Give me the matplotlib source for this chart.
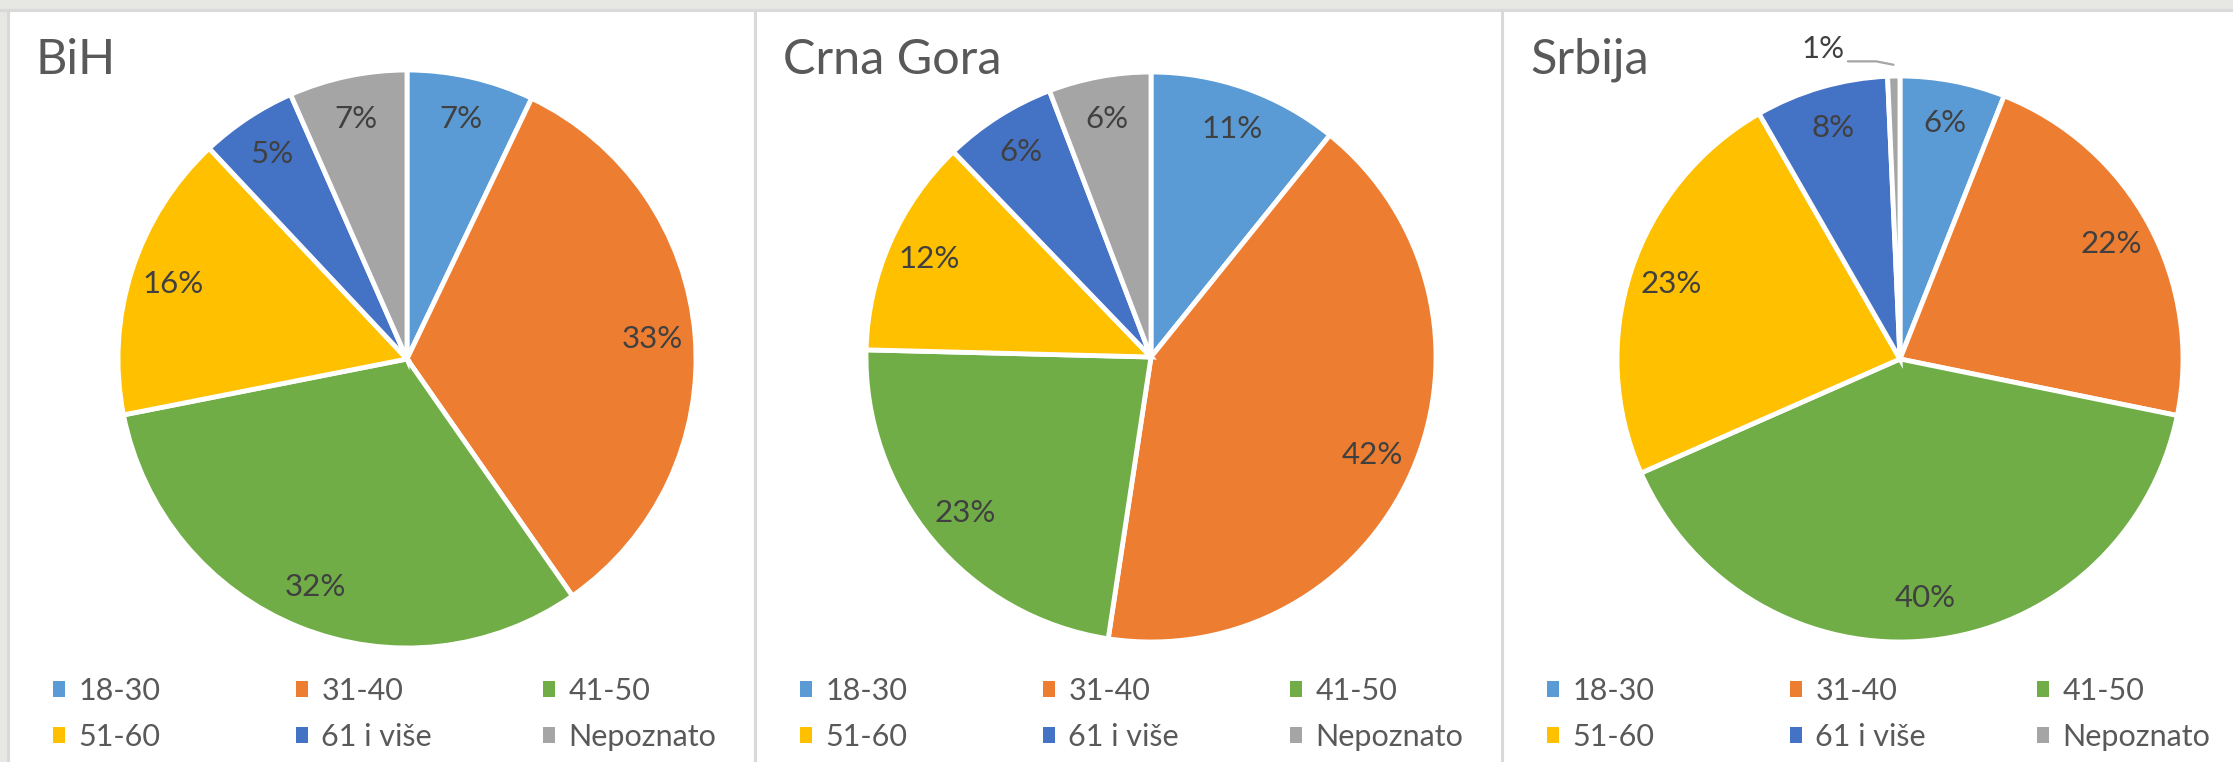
import math

import matplotlib
matplotlib.use("Agg")
from matplotlib import pyplot as plt
from matplotlib.patches import Rectangle, Patch
from matplotlib.lines import Line2D

plt.rcParams['font.family'] = ['Lato', 'DejaVu Sans']

# data
categories = ["18-30", "31-40", "41-50", "51-60", "61 i više", "Nepoznato"]
colors = ["#5B9BD5", "#ED7D31", "#70AD47", "#FFC000", "#4472C4", "#A5A5A5"]
titles = ["BiH", "Crna Gora", "Srbija"]
bih = [7.1, 33.2, 31.6, 16.1, 5.4, 6.6]
crna_gora = [10.8, 41.6, 23.0, 12.4, 6.4, 5.8]
srbija = [6.0, 22.2, 40.2, 23.3, 7.6, 0.7]
series = [bih, crna_gora, srbija]

W, H = 2233, 762
fig = plt.figure(figsize=(W / 100, H / 100), dpi=100)
fig.patch.set_facecolor("white")


def fx(x):
    return x / W


def fy(y):
    return 1 - y / H


# background strips and panel borders
fig.add_artist(Rectangle((0, fy(10)), 1, 10 / H, transform=fig.transFigure,
                         facecolor="#e7e7e4", edgecolor="none", zorder=0))
fig.add_artist(Rectangle((0, 0), 7 / W, 1, transform=fig.transFigure,
                         facecolor="#e7e7e4", edgecolor="none", zorder=0))
border = dict(color="#d9d9d9", lw=2.2, transform=fig.transFigure, zorder=1)
fig.add_artist(Line2D([0, 1], [fy(10), fy(10)], **border))
for bx in [8, 754.5, 1501.5]:
    fig.add_artist(Line2D([fx(bx), fx(bx)], [0, fy(10)], **border))

panel_left = [9, 756, 1503]
pie_geom = [(407, 359, 289), (1151, 357, 285), (1900, 359, 283)]
legend_off = [44, 287, 534]

for i in range(3):
    cx, cy, r = pie_geom[i]
    ax = fig.add_axes([fx(cx - r), fy(cy + r), 2 * r / W, 2 * r / H])
    wedges, texts, autotexts = ax.pie(
        series[i], colors=colors, startangle=90, counterclock=False,
        wedgeprops=dict(edgecolor="white", linewidth=3.5),
        autopct=lambda p: f"{p:.0f}%" if p >= 2 else "",
        pctdistance=0.85,
        textprops=dict(color="#404040", fontsize=22.5))
    ax.set_xlim(-1, 1)
    ax.set_ylim(-1, 1)
    ax.set_aspect("equal")

    # tiny slice gets an outside label with leader line
    total = sum(series[i])
    for w, v in zip(wedges, series[i]):
        if v / total * 100 < 2:
            th = math.radians((w.theta1 + w.theta2) / 2)
            ax.annotate(f"{v / total * 100:.0f}%",
                        xy=(1.04 * math.cos(th), 1.04 * math.sin(th)),
                        xytext=(-70, 16), textcoords="offset pixels",
                        ha="center", va="center", fontsize=22.5, color="#404040",
                        annotation_clip=False,
                        arrowprops=dict(arrowstyle="-", color="#a5a5a5", lw=1.6,
                                        shrinkA=0, shrinkB=0, relpos=(1.0, 0.05),
                                        connectionstyle="angle,angleA=0,angleB=169,rad=0"))

    fig.text(fx(panel_left[i] + 27), fy(74), titles[i], fontsize=35,
             color="#595959", va="baseline", ha="left")

    for j in range(3):
        idx = [j, j + 3]
        handles = [Patch(facecolor=colors[k], edgecolor="none") for k in idx]
        fig.legend(handles, [categories[k] for k in idx], loc="center left",
                   bbox_to_anchor=(fx(panel_left[i] + legend_off[j]), fy(714)),
                   bbox_transform=fig.transFigure, frameon=False,
                   borderpad=0, borderaxespad=0, handlelength=0.38,
                   handleheight=0.42, handletextpad=0.45, labelspacing=0.6,
                   fontsize=22, labelcolor="#595959")

fig.savefig("out.png", dpi=100)
